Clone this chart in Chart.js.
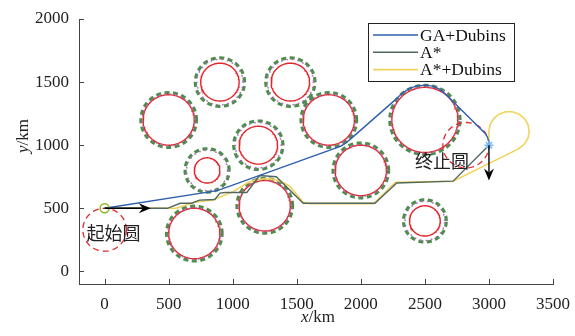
<!DOCTYPE html>
<html><head><meta charset="utf-8">
<script src="https://cdn.jsdelivr.net/npm/chart.js@4.4.0/dist/chart.umd.min.js"></script>
<style>html,body{margin:0;padding:0;background:#fff}canvas{display:block}</style>
</head><body>
<canvas id="c" width="575" height="336"></canvas>
<script>
// ---- data ----
const xTicks = [0, 500, 1000, 1500, 2000, 2500, 3000, 3500];
const yTicks = [0, 500, 1000, 1500, 2000];
const seriesLabels = ['GA+Dubins', 'A*', 'A*+Dubins'];

const gaX = [0, 880, 1840, 1875, 1910, 2266, 2320, 2380, 2440, 2500, 2560, 2620, 2660, 2969, 2988, 2998, 3000];
const gaY = [500, 640, 990, 1012, 1040, 1357, 1410, 1450, 1470, 1476, 1468, 1442, 1405, 1095, 1065, 1030, 1000];

const astarX = [0, 490, 590, 680, 740, 860, 900, 940, 1110, 1210, 1340, 1550, 2110, 2280, 2720, 3000];
const astarY = [500, 500, 540, 540, 565, 570, 620, 625, 625, 760, 750, 540, 540, 700, 715, 1000];

const adX = [0, 360, 560, 700, 845, 1000, 1110, 1170, 1230, 1290, 1345, 1400, 1445, 1550, 1600, 2100, 2270, 2720,
             3231, 3277, 3305, 3314, 3305, 3277, 3236, 3184, 3130, 3079, 3037, 3009, 3000, 3000];
const adY = [500, 500, 500, 548, 565, 630, 698, 722, 732, 733, 722, 700, 675, 548, 537, 537, 706, 714,
             971, 1009, 1056, 1110, 1164, 1211, 1246, 1265, 1265, 1246, 1211, 1164, 1110, 1000];

// obstacles: centre, danger radius (red), safety radius (dotted/dashed)
const obsX = [500, 900, 1450, 1750, 1200, 800, 2000, 2500, 1250, 700, 2500];
const obsY = [1200, 1500, 1500, 1200, 1000, 800, 800, 1200, 520, 300, 400];
const dangerR = [200, 150, 150, 200, 150, 100, 200, 258, 200, 200, 120];
const safeR = [205, 180, 180, 205, 180, 160, 205, 262, 205, 205, 155];

// start / end turning circles
const turnX = [0, 2820];
const turnY = [330, 1000];
const turnR = [170, 180];

const startPt = [0, 500];
const endPt = [3000, 1000];
const startArrow = [[0, 500], [360, 500]];
const endArrow = [[3000, 1000], [3000, 720]];

const noteText = ['起始圆', '终止圆'];
const noteX = [70, 2633];
const noteY = [300, 873];

// ---- helpers ----
function circlePts(cx, cy, r) {
  const pts = [];
  for (let i = 0; i <= 90; i++) {
    const a = i / 90 * Math.PI * 2;
    pts.push({x: cx + r * Math.cos(a), y: cy + r * Math.sin(a)});
  }
  return pts;
}
const zip = (xs, ys) => xs.map((x, i) => ({x, y: ys[i]}));

const colors = {blue: '#2f5fae', gray: '#50685f', yellow: '#f2d35c', red: '#e3262c', green: '#4f8d4f', purple: '#b46cc0'};
const seriesColors = [colors.blue, colors.gray, colors.yellow];

const datasets = [];
obsX.forEach((cx, i) => {
  datasets.push({data: circlePts(cx, obsY[i], safeR[i] + 12), borderColor: colors.green, borderWidth: 3.2, borderDash: [5, 3.5], order: 10});
  datasets.push({data: circlePts(cx, obsY[i], dangerR[i]), borderColor: colors.red, borderWidth: 1.4, order: 9});
  datasets.push({data: circlePts(cx, obsY[i], safeR[i]), borderColor: colors.purple, borderWidth: 1.6, borderDash: [1.5, 4], order: 8});
});
turnX.forEach((cx, i) => {
  datasets.push({data: circlePts(cx, turnY[i], turnR[i]), borderColor: colors.red, borderWidth: 1.3, borderDash: [6, 4], order: 7});
});
datasets.push({label: seriesLabels[0], data: zip(gaX, gaY), borderColor: colors.blue, borderWidth: 1.4, order: 2});
datasets.push({label: seriesLabels[1], data: zip(astarX, astarY), borderColor: colors.gray, borderWidth: 1.4, order: 3});
datasets.push({label: seriesLabels[2], data: zip(adX, adY), borderColor: colors.yellow, borderWidth: 1.6, order: 4});
datasets.push({data: [{x: startPt[0], y: startPt[1]}], showLine: false, pointRadius: 4.5, pointBorderColor: '#8db52a', pointBackgroundColor: 'rgba(255,255,255,0)', pointBorderWidth: 1.5, order: 0});
datasets.push({data: [{x: endPt[0], y: endPt[1]}], showLine: false, pointStyle: 'star', pointRadius: 4.5, pointBorderColor: '#7db8f0', pointBorderWidth: 1.5, order: 0});

datasets.forEach(d => {
  if (d.showLine === undefined) d.showLine = true;
  if (d.pointRadius === undefined) d.pointRadius = 0;
  d.tension = 0;
  d.fill = false;
});

const serif = '"Liberation Serif", "Times New Roman", serif';

function arrow(ctx, x0, y0, x1, y1) {
  const ang = Math.atan2(y1 - y0, x1 - x0);
  const L = 12, W = 5, N = 8;
  ctx.beginPath();
  ctx.moveTo(x0, y0);
  ctx.lineTo(x1 - N * Math.cos(ang), y1 - N * Math.sin(ang));
  ctx.stroke();
  ctx.beginPath();
  ctx.moveTo(x1, y1);
  const bx = x1 - L * Math.cos(ang), by = y1 - L * Math.sin(ang);
  const nx = x1 - N * Math.cos(ang), ny = y1 - N * Math.sin(ang);
  ctx.lineTo(bx + W * Math.sin(ang), by - W * Math.cos(ang));
  ctx.lineTo(nx, ny);
  ctx.lineTo(bx - W * Math.sin(ang), by + W * Math.cos(ang));
  ctx.closePath();
  ctx.fill();
}

const decor = {
  id: 'decor',
  afterDatasetsDraw(chart) {
    const {ctx, scales: {x, y}} = chart;
    ctx.save();
    ctx.strokeStyle = '#000'; ctx.fillStyle = '#000'; ctx.lineWidth = 1.4;
    [startArrow, endArrow].forEach(a => {
      arrow(ctx, x.getPixelForValue(a[0][0]), y.getPixelForValue(a[0][1]), x.getPixelForValue(a[1][0]), y.getPixelForValue(a[1][1]));
    });
    ctx.fillStyle = '#222';
    ctx.font = '18px "Noto Sans CJK SC"';
    ctx.textAlign = 'center'; ctx.textBaseline = 'middle';
    noteText.forEach((t, i) => ctx.fillText(t, x.getPixelForValue(noteX[i]), y.getPixelForValue(noteY[i])));
    // legend box
    const bx = 368.5, by = 23.5, bw = 146, bh = 58;
    ctx.fillStyle = '#fff'; ctx.fillRect(bx, by, bw, bh);
    ctx.strokeStyle = '#222'; ctx.lineWidth = 1; ctx.strokeRect(bx, by, bw, bh);
    ctx.font = '17.5px ' + serif; ctx.textAlign = 'left'; ctx.textBaseline = 'middle';
    seriesLabels.forEach((lab, i) => {
      const ly = 35 + i * 17.3;
      ctx.strokeStyle = seriesColors[i]; ctx.lineWidth = 1.6;
      ctx.beginPath(); ctx.moveTo(373, ly); ctx.lineTo(418, ly); ctx.stroke();
      ctx.fillStyle = '#111'; ctx.fillText(lab, 420, ly + 1);
    });
    ctx.restore();
  },
  afterDraw(chart) {
    const {ctx, scales: {x, y}, chartArea: ca} = chart;
    ctx.save();
    ctx.strokeStyle = '#444'; ctx.lineWidth = 1;
    xTicks.forEach(v => { const px = Math.round(x.getPixelForValue(v)) + 0.5; ctx.beginPath(); ctx.moveTo(px, ca.bottom); ctx.lineTo(px, ca.bottom - 5); ctx.stroke(); });
    yTicks.forEach(v => { const py = Math.round(y.getPixelForValue(v)) + 0.5; ctx.beginPath(); ctx.moveTo(ca.left, py); ctx.lineTo(ca.left + 5, py); ctx.stroke(); });
    ctx.fillStyle = '#222'; ctx.textBaseline = 'middle'; ctx.textAlign = 'left';
    const it = 'italic 17px ' + serif, up = '17px ' + serif;
    ctx.font = it; const wx = ctx.measureText('x').width; ctx.font = up; const wk = ctx.measureText('/km').width;
    const sx = (ca.left + ca.right) / 2 - (wx + wk) / 2 + 2;
    ctx.font = it; ctx.fillText('x', sx, 318); ctx.font = up; ctx.fillText('/km', sx + wx, 318);
    ctx.translate(24, 136); ctx.rotate(-Math.PI / 2);
    ctx.font = it; const wy = ctx.measureText('y').width;
    const sy = -(wy + wk) / 2;
    ctx.fillText('y', sy, 0); ctx.font = up; ctx.fillText('/km', sy + wy, 0);
    ctx.restore();
  }
};

new Chart(document.getElementById('c'), {
  type: 'scatter',
  data: {datasets},
  options: {
    responsive: false, animation: false, devicePixelRatio: 1,
    layout: {padding: {left: 0, right: 22, top: 19, bottom: 0}},
    plugins: {legend: {display: false}, tooltip: {enabled: false}},
    scales: {
      x: {type: 'linear', min: -200, max: 3500,
        afterBuildTicks: s => { s.ticks = xTicks.map(v => ({value: v})); },
        afterFit: s => { s.height = 52; s.paddingLeft = 0; s.paddingRight = 0; },
        grid: {display: false, drawTicks: false},
        border: {display: true, color: '#444', width: 1},
        ticks: {font: {family: serif, size: 17}, color: '#222', padding: 10, maxRotation: 0, callback: v => String(v)}},
      y: {type: 'linear', min: -100, max: 2000,
        afterBuildTicks: s => { s.ticks = yTicks.map(v => ({value: v})); },
        afterFit: s => { s.width = 79; s.paddingTop = 0; s.paddingBottom = 0; },
        grid: {display: false, drawTicks: false},
        border: {display: true, color: '#444', width: 1},
        ticks: {font: {family: serif, size: 17}, color: '#222', padding: 10, callback: v => String(v)}}
    }
  },
  plugins: [decor]
});
</script>
</body></html>
